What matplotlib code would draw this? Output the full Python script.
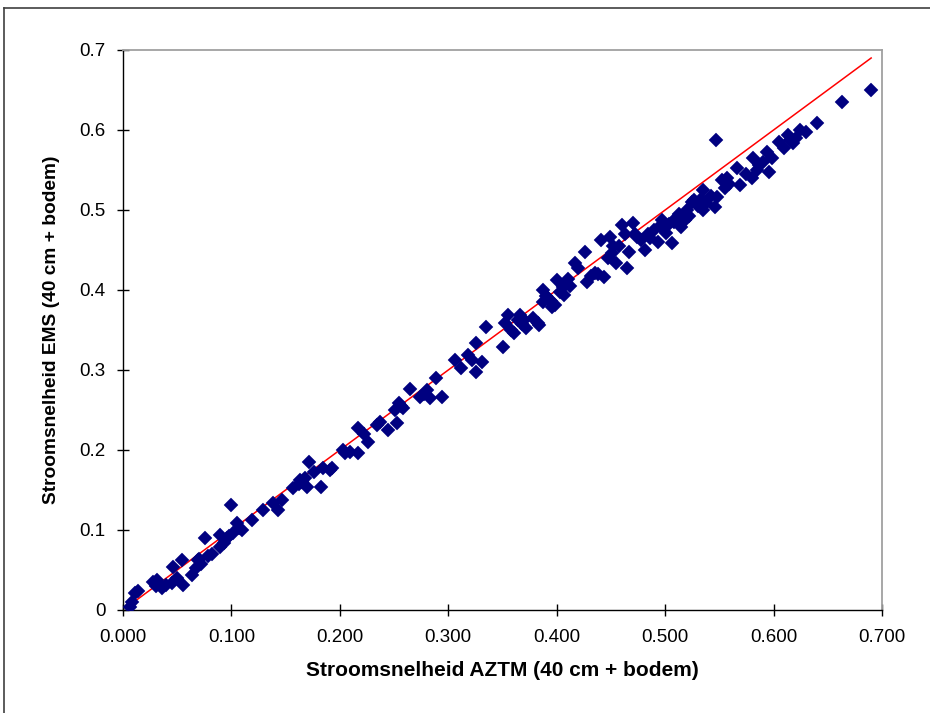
import matplotlib
matplotlib.use('Agg')
import matplotlib.pyplot as plt
from matplotlib.lines import Line2D
from matplotlib.ticker import FixedLocator

plt.rcParams['font.family'] = ['Liberation Sans', 'DejaVu Sans']

aztm = [0.006, 0.008, 0.011, 0.014, 0.028, 0.031, 0.033, 0.036, 0.040, 0.045,
        0.046, 0.050, 0.054, 0.055, 0.064, 0.067, 0.069, 0.072, 0.076, 0.078,
        0.082, 0.089, 0.089, 0.093, 0.096, 0.100, 0.101, 0.105, 0.107, 0.110,
        0.119, 0.129, 0.138, 0.143, 0.147, 0.157, 0.162, 0.165, 0.168, 0.170,
        0.172, 0.176, 0.183, 0.184, 0.191, 0.193, 0.203, 0.209, 0.217, 0.217,
        0.222, 0.226, 0.234, 0.237, 0.244, 0.251, 0.253, 0.255, 0.258, 0.265,
        0.274, 0.280, 0.283, 0.289, 0.294, 0.306, 0.312, 0.318, 0.322, 0.326,
        0.326, 0.331, 0.335, 0.350, 0.352, 0.355, 0.358, 0.361, 0.366, 0.368,
        0.372, 0.378, 0.383, 0.384, 0.387, 0.387, 0.392, 0.396, 0.398, 0.400,
        0.403, 0.406, 0.407, 0.412, 0.417, 0.420, 0.426, 0.428, 0.432, 0.435,
        0.441, 0.444, 0.447, 0.449, 0.451, 0.455, 0.457, 0.460, 0.465, 0.467,
        0.470, 0.472, 0.474, 0.478, 0.481, 0.486, 0.490, 0.493, 0.497, 0.501,
        0.504, 0.506, 0.510, 0.513, 0.515, 0.518, 0.520, 0.522, 0.525, 0.530,
        0.535, 0.535, 0.538, 0.542, 0.546, 0.547, 0.548, 0.552, 0.555, 0.559,
        0.566, 0.569, 0.575, 0.580, 0.581, 0.587, 0.590, 0.594, 0.596, 0.599,
        0.610, 0.613, 0.618, 0.621, 0.624, 0.630, 0.640, 0.663, 0.690,
        0.030, 0.070, 0.098, 0.163, 0.205, 0.256, 0.278, 0.364, 0.370, 0.390,
        0.395, 0.410, 0.438, 0.452, 0.463, 0.484, 0.495, 0.508, 0.512, 0.527,
        0.533, 0.557, 0.585, 0.605, 0.615]
ems = [0.004, 0.010, 0.021, 0.024, 0.035, 0.037, 0.032, 0.027, 0.031, 0.034,
       0.054, 0.040, 0.062, 0.031, 0.044, 0.052, 0.062, 0.058, 0.090, 0.067,
       0.070, 0.094, 0.079, 0.084, 0.090, 0.131, 0.096, 0.109, 0.102, 0.100,
       0.112, 0.125, 0.134, 0.125, 0.137, 0.152, 0.158, 0.160, 0.165, 0.154,
       0.185, 0.172, 0.154, 0.177, 0.175, 0.178, 0.200, 0.198, 0.196, 0.228,
       0.220, 0.210, 0.231, 0.235, 0.225, 0.250, 0.234, 0.259, 0.252, 0.276,
       0.266, 0.275, 0.265, 0.290, 0.266, 0.312, 0.302, 0.319, 0.312, 0.298,
       0.334, 0.310, 0.354, 0.329, 0.359, 0.369, 0.350, 0.346, 0.369, 0.358,
       0.352, 0.365, 0.359, 0.356, 0.385, 0.400, 0.390, 0.379, 0.381, 0.412,
       0.398, 0.404, 0.394, 0.405, 0.434, 0.428, 0.448, 0.410, 0.418, 0.421,
       0.463, 0.416, 0.440, 0.466, 0.446, 0.434, 0.455, 0.481, 0.427, 0.448,
       0.484, 0.470, 0.466, 0.462, 0.450, 0.465, 0.475, 0.460, 0.488, 0.471,
       0.482, 0.459, 0.490, 0.495, 0.479, 0.487, 0.500, 0.492, 0.510, 0.505,
       0.500, 0.525, 0.509, 0.518, 0.504, 0.588, 0.516, 0.537, 0.528, 0.533,
       0.552, 0.531, 0.545, 0.540, 0.565, 0.556, 0.560, 0.572, 0.547, 0.565,
       0.578, 0.594, 0.584, 0.590, 0.600, 0.598, 0.609, 0.635, 0.650,
       0.030, 0.064, 0.093, 0.163, 0.196, 0.255, 0.270, 0.362, 0.362, 0.393,
       0.386, 0.414, 0.420, 0.455, 0.470, 0.470, 0.480, 0.485, 0.485, 0.512,
       0.514, 0.540, 0.550, 0.585, 0.588]

# 1:1 reference line
line_x = [0.005, 0.69]
line_y = [0.005, 0.69]

x_ticks = [0.0, 0.1, 0.2, 0.3, 0.4, 0.5, 0.6, 0.7]
x_ticklabels = ['0.000', '0.100', '0.200', '0.300', '0.400', '0.500', '0.600', '0.700']
y_ticks = [0.0, 0.1, 0.2, 0.3, 0.4, 0.5, 0.6, 0.7]
y_ticklabels = ['0', '0.1', '0.2', '0.3', '0.4', '0.5', '0.6', '0.7']

fig = plt.figure(figsize=(9.3, 7.13), dpi=100)
ax = fig.add_axes([123 / 930, 1 - 610 / 713, (882 - 123) / 930, (610 - 50) / 713])

ax.plot(line_x, line_y, color='#ff0000', lw=1.1, zorder=2)
ax.plot(aztm, ems, linestyle='none', marker='D', markersize=6.9,
        markerfacecolor='#000080', markeredgecolor='#000080', markeredgewidth=0.3, zorder=3)

ax.set_xlim(0, 0.7)
ax.set_ylim(0, 0.7)
ax.xaxis.set_major_locator(FixedLocator(x_ticks))
ax.yaxis.set_major_locator(FixedLocator(y_ticks))
ax.set_xticklabels(x_ticklabels)
ax.set_yticklabels(y_ticklabels)

ax.tick_params(axis='both', direction='inout', length=9, width=1, color='black',
               labelsize=13.5, top=False, right=False)
ax.tick_params(axis='x', pad=9)
ax.tick_params(axis='y', pad=8)

for side in ['left', 'bottom']:
    ax.spines[side].set_color('black')
    ax.spines[side].set_linewidth(1)
for side in ['top', 'right']:
    ax.spines[side].set_color('#a0a0a0')
    ax.spines[side].set_linewidth(1.3)

ax.set_xlabel('Stroomsnelheid AZTM (40 cm + bodem)', fontsize=15, fontweight='bold', labelpad=11)
ax.set_ylabel('Stroomsnelheid EMS (40 cm + bodem)', fontsize=13.8, fontweight='bold', labelpad=14)

# outer chart border (only top and left visible in the reference)
fig.add_artist(Line2D([4 / 930, 1.0], [1 - 8 / 713, 1 - 8 / 713], transform=fig.transFigure,
                      color='#404040', lw=1.2))
fig.add_artist(Line2D([4 / 930, 4 / 930], [0.0, 1 - 8 / 713], transform=fig.transFigure,
                      color='#404040', lw=1.2))

fig.savefig('out.png', dpi=100)
